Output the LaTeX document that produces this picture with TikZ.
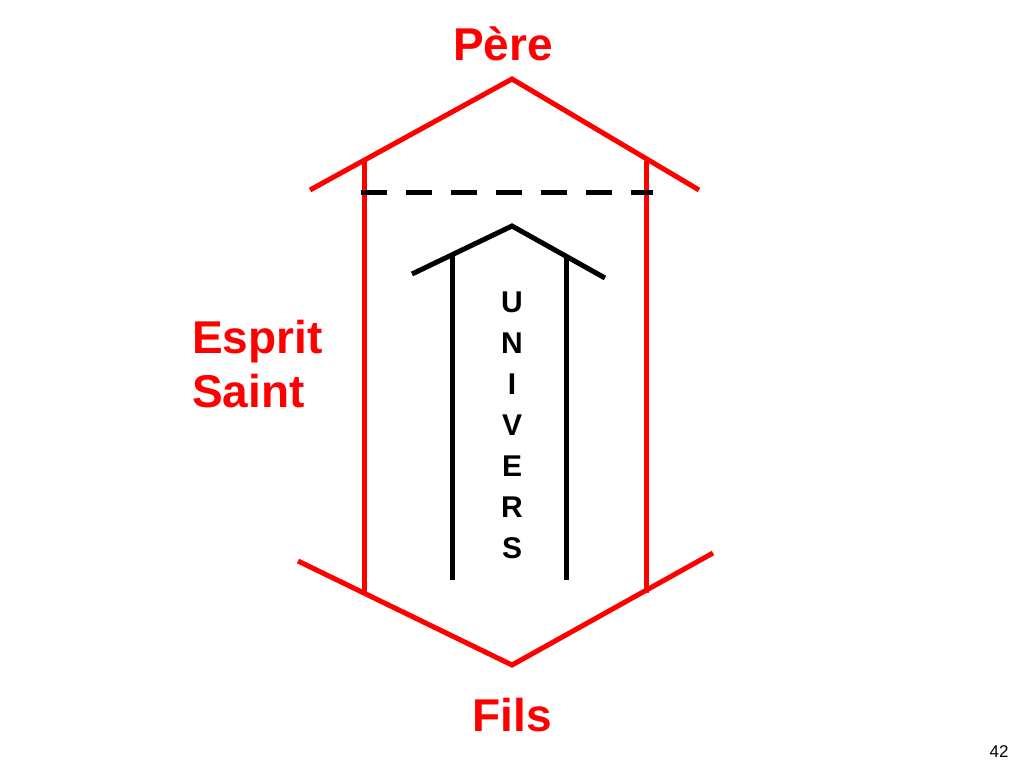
\documentclass[tikz,border=0pt]{standalone}
\usepackage{fontspec}
\setmainfont{Liberation Sans}
\usetikzlibrary{positioning}

\begin{document}
\begin{tikzpicture} [
        x=1pt, y=-1pt,
        red line/.style={draw=red, line width=5pt},
        black line/.style={draw=black, line width=5pt},
        cut line/.style={draw=black, line width=5pt, dash pattern=on 26pt off 19pt},
        title/.style={font=\fontsize{46}{52}\selectfont\bfseries, text=red, inner sep=0pt, anchor=base},
        letters/.style={font=\fontsize{30}{41}\selectfont\bfseries, inner sep=0pt, align=center},
        page number/.style={font=\fontsize{17}{19}\selectfont, inner sep=0pt}
    ]
    \useasboundingbox (0,0) rectangle (1024,768);

    % red arrow, up and down
    \coordinate (pere tip) at (512,79);
    \coordinate (fils tip) at (512,665);
    \draw[red line] (310,190) -- (pere tip) -- (699,190);
    \draw[red line] (298,561) -- (fils tip) -- (713,553);
    \draw[red line] (364,160) -- (364,595);
    \draw[red line] (646,161) -- (646,593);

    \draw[cut line] (361,192) -- (653,192);

    % black arrow
    \coordinate (univers tip) at (512,226);
    \draw[black line] (412,274) -- (univers tip) -- (605,278);
    \draw[black line] (452,255) -- (452,580);
    \draw[black line] (566,257) -- (566,580);

    \node[letters] (univers) at (512,425) {U\\N\\I\\V\\E\\R\\S};

    \node[title] (pere) at (503,60) {Père};
    \node[title] (fils) at (512,731) {Fils};
    \node[title, anchor=base west] (esprit) at (192,353) {Esprit};
    \node[title, anchor=base west] (saint) at ([yshift=-54pt]esprit.base west) {Saint};

    \node[page number] (num) at (999,752) {42};

    \end{tikzpicture}
\end{document}
